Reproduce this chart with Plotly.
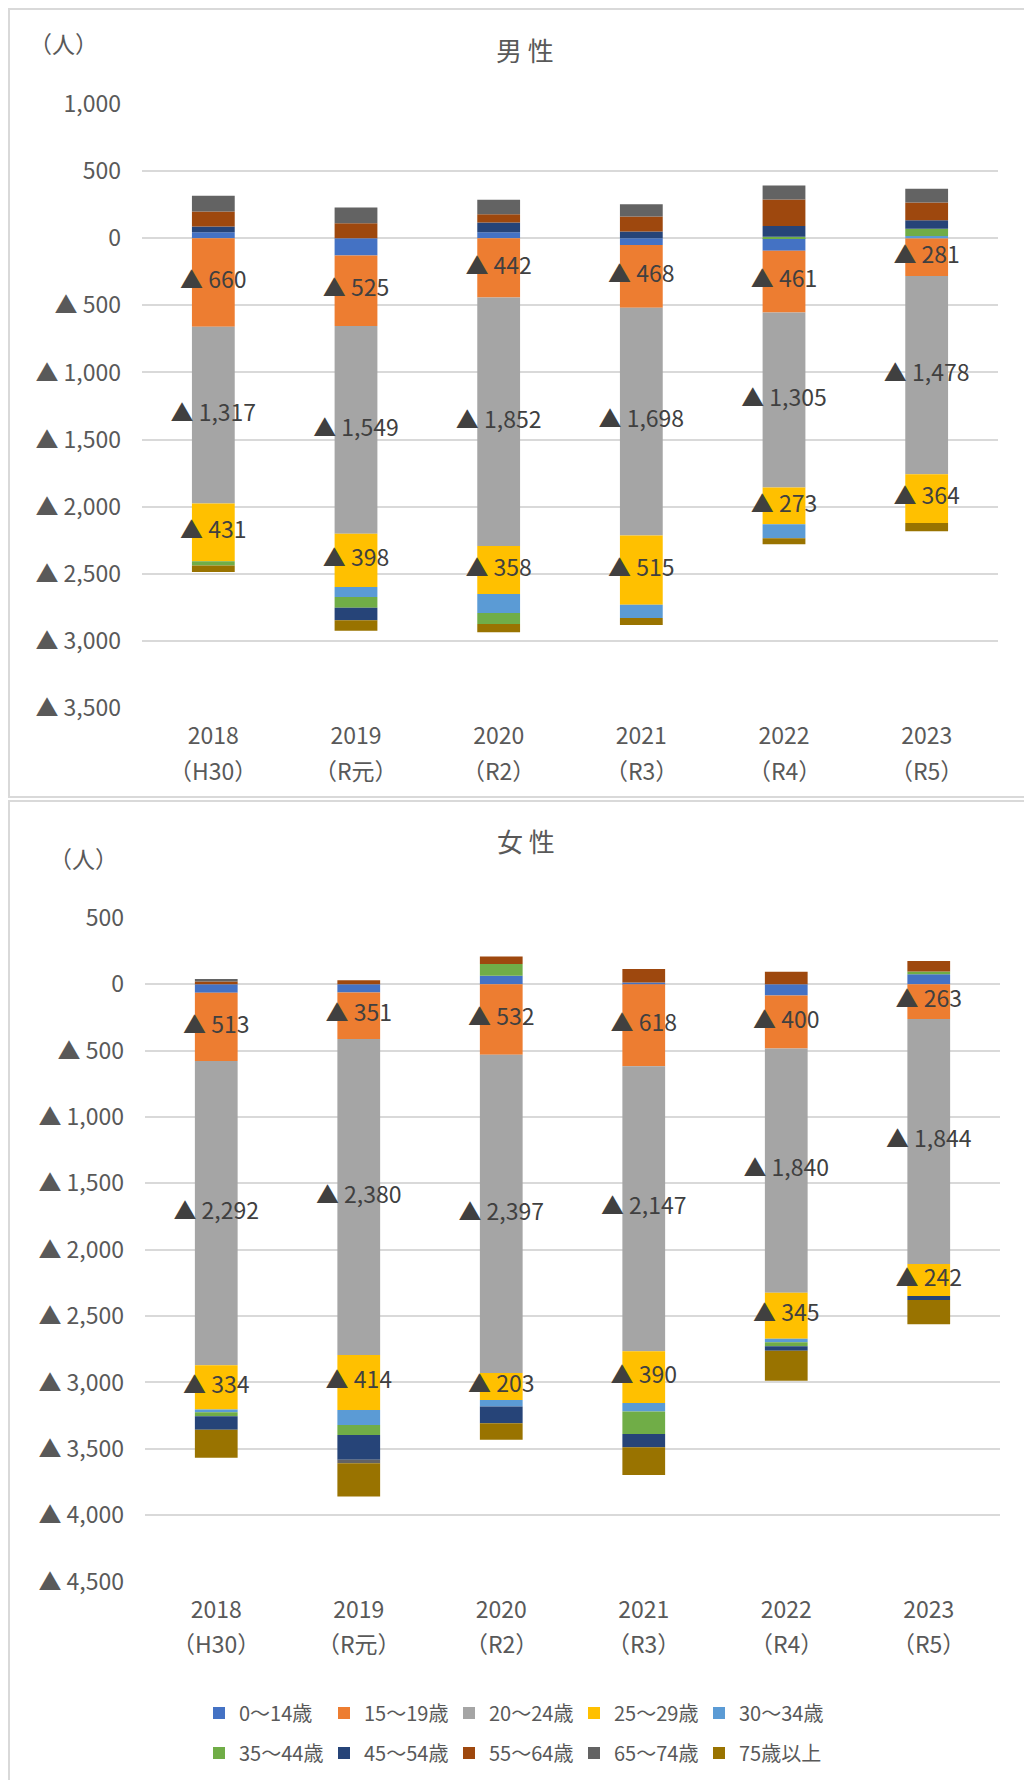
import numpy as np
import plotly.graph_objects as go

# The page body has an 8px margin, so the figure is drawn 8px in from the window edge.
OFF = 8
FW, FH = 1024, 1772

years = ["2018", "2019", "2020", "2021", "2022", "2023"]
eras = ["（H30）", "（R元）", "（R2）", "（R3）", "（R4）", "（R5）"]
age_groups = ["0～14歳", "15～19歳", "20～24歳", "25～29歳", "30～34歳",
              "35～44歳", "45～54歳", "55～64歳", "65～74歳", "75歳以上"]
colors = ["#4472C4", "#ED7D31", "#A5A5A5", "#FFC000", "#5B9BD5",
          "#70AD47", "#264478", "#9E480E", "#636363", "#997300"]

# 男性 (values per age group, 2018..2023)
m_0_14 = [45, -128, 45, -50, -92, 0]
m_15_19 = [-660, -525, -442, -468, -461, -281]
m_20_24 = [-1317, -1549, -1852, -1698, -1305, -1478]
m_25_29 = [-431, -398, -358, -515, -273, -364]
m_30_34 = [0, -74, -141, -99, -104, 17]
m_35_44 = [-30, -79, -82, 0, 12, 55]
m_45_54 = [42, -94, 72, 50, 79, 62]
m_55_64 = [112, 112, 62, 112, 199, 132]
m_65_74 = [119, 117, 109, 92, 104, 104]
m_75 = [-50, -79, -62, -52, -45, -60]

# 女性
f_0_14 = [-65, -62, 63, 12, -85, 75]
f_15_19 = [-513, -351, -532, -618, -400, -263]
f_20_24 = [-2292, -2380, -2397, -2147, -1840, -1844]
f_25_29 = [-334, -414, -203, -390, -345, -242]
f_30_34 = [-20, -113, -50, -63, -28, 0]
f_35_44 = [-30, -75, 90, -171, -30, 20]
f_45_54 = [-103, -188, -125, -100, -33, -30]
f_55_64 = [20, 30, 55, 103, 93, 80]
f_65_74 = [20, -25, 0, 0, 0, 0]
f_75 = [-211, -251, -125, -208, -226, -183]

male = [m_0_14, m_15_19, m_20_24, m_25_29, m_30_34, m_35_44, m_45_54, m_55_64, m_65_74, m_75]
female = [f_0_14, f_15_19, f_20_24, f_25_29, f_30_34, f_35_44, f_45_54, f_55_64, f_65_74, f_75]
labeled = [1, 2, 3]  # 15～19, 20～24, 25～29

male_ticks = [1000, 500, 0, -500, -1000, -1500, -2000, -2500, -3000, -3500]
female_ticks = [500, 0, -500, -1000, -1500, -2000, -2500, -3000, -3500, -4000, -4500]

FONT = "Noto Sans CJK JP, Noto Sans, sans-serif"
GRAY_TXT = "#595959"
LABEL_TXT = "#404040"


def fmt(v):
    return ("▲ {:,}".format(-v)) if v < 0 else "{:,}".format(v)


def px(x):
    return (x - OFF) / FW


def py(y):
    return 1 - (y - OFF) / FH


fig = go.Figure()


def add_panel(data, xa, ya, show_legend):
    arr = np.array(data, dtype=float)
    for i, (name, vals) in enumerate(zip(age_groups, data)):
        fig.add_trace(go.Bar(
            x=years, y=vals, name=name, marker=dict(color=colors[i], line=dict(width=0)),
            xaxis=xa, yaxis=ya, legendgroup=name, showlegend=show_legend,
            legend="legend" if i < 5 else "legend2", hoverinfo="skip"))
    neg = np.minimum(arr, 0)
    cum = np.cumsum(neg, axis=0) - neg  # base of each negative segment
    for i in labeled:
        vals = arr[i]
        centers = cum[i] + vals / 2.0
        fig.add_trace(go.Scatter(
            x=years, y=centers, mode="text", text=[fmt(int(v)) for v in vals],
            textposition="middle center",
            textfont=dict(size=23, color=LABEL_TXT, family=FONT),
            xaxis=xa, yaxis=ya, showlegend=False, hoverinfo="skip", cliponaxis=False))


add_panel(male, "x", "y", True)
add_panel(female, "x2", "y2", False)

xcommon = dict(type="category", categoryorder="array", categoryarray=years,
               range=[-0.5, len(years) - 0.5],
               tickvals=years, ticktext=years, showgrid=False,
               showline=False, ticks="", tickfont=dict(size=23, color=GRAY_TXT, family=FONT),
               ticklabelstandoff=12, fixedrange=True)
ycommon = dict(showgrid=True, gridcolor="#D9D9D9", gridwidth=1.8, zeroline=True,
               zerolinecolor="#D9D9D9", zerolinewidth=1.8, showline=False, ticks="",
               tickfont=dict(size=23, color=GRAY_TXT, family=FONT), ticklabelstandoff=20,
               fixedrange=True)

legend_common = dict(orientation="h", xanchor="left", yanchor="middle",
                     entrywidth=80, entrywidthmode="pixels", traceorder="normal",
                     font=dict(size=20, color=GRAY_TXT, family=FONT),
                     bgcolor="rgba(0,0,0,0)", itemclick=False, itemdoubleclick=False)

fig.update_layout(
    width=FW, height=FH, margin=dict(l=0, r=0, t=0, b=0, autoexpand=False),
    paper_bgcolor="white", plot_bgcolor="white",
    barmode="relative", bargap=0.70,
    font=dict(family=FONT, color=GRAY_TXT),
    xaxis=dict(domain=[px(142), px(998)], anchor="y", **xcommon),
    xaxis2=dict(domain=[px(145), px(1000)], anchor="y2", **xcommon),
    yaxis=dict(domain=[py(708), py(104)], anchor="x", range=[-3501, 1001],
               tickvals=male_ticks, ticktext=[fmt(v) for v in male_ticks], **ycommon),
    yaxis2=dict(domain=[py(1581.7), py(917.7)], anchor="x2", range=[-4501, 501],
                tickvals=female_ticks, ticktext=[fmt(v) for v in female_ticks], **ycommon),
    legend=dict(x=px(199), y=py(1713), **legend_common),
    legend2=dict(x=px(199), y=py(1753), **legend_common),
    showlegend=True,
)

# era labels: second line under each year (placed at each category's index on the axis)
for xa, yline in (("x", 770), ("x2", 1643)):
    for idx, era in enumerate(eras):
        fig.add_annotation(xref=xa, yref="paper", x=idx, y=py(yline), text=era,
                           showarrow=False, xanchor="center", yanchor="middle",
                           font=dict(size=23, color=GRAY_TXT, family=FONT))

annots = [
    ("男 性", 525, 50, 26),
    ("（人）", 63, 43, 23),
    ("女 性", 526, 840, 26),
    ("（人）", 83, 858, 23),
]
for text, x, y, size in annots:
    fig.add_annotation(xref="paper", yref="paper", x=px(x), y=py(y), text=text,
                       showarrow=False, xanchor="center", yanchor="middle",
                       font=dict(size=size, color=GRAY_TXT, family=FONT))

# panel borders
fig.add_shape(type="rect", xref="paper", yref="paper", x0=px(9), x1=px(1045),
              y0=py(797), y1=py(9), line=dict(color="#D9D9D9", width=2),
              fillcolor="rgba(0,0,0,0)")
fig.add_shape(type="rect", xref="paper", yref="paper", x0=px(9), x1=px(1045),
              y0=py(1800), y1=py(801), line=dict(color="#D9D9D9", width=2),
              fillcolor="rgba(0,0,0,0)")

fig.write_html("out.html")
